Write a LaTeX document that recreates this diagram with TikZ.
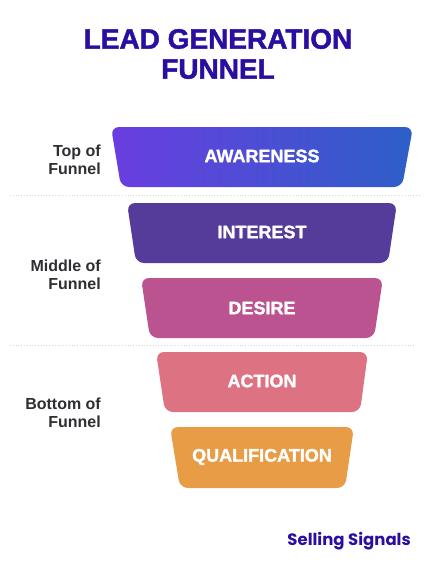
\documentclass[tikz,border=0pt]{standalone}
\usepackage{fontspec}
\setmainfont{Liberation Sans}
\newfontfamily\heavyfont[FakeBold=1.6]{Liberation Sans Bold}
\newfontfamily\popfont{Poppins}
\definecolor{titleblue}{HTML}{2B0EA0}
\definecolor{labelgray}{HTML}{2E2E33}
\definecolor{awL}{HTML}{6A3DE0}
\definecolor{awR}{HTML}{2D5FC8}
\definecolor{intc}{HTML}{563C9A}
\definecolor{desc}{HTML}{BB5390}
\definecolor{actc}{HTML}{DC7282}
\definecolor{qualc}{HTML}{E89C45}
\definecolor{dotgray}{HTML}{D8D8D8}
\begin{document}
\begin{tikzpicture}[x=1pt,y=-1pt,
  stage/.style={rounded corners=8pt},
  stagetext/.style={text=white,font=\heavyfont\fontsize{18}{18}\selectfont,inner sep=0pt},
  sidelabel/.style={text=labelgray,font=\bfseries\fontsize{16}{17.5}\selectfont,align=right,anchor=east,inner sep=0pt},
  sep/.style={draw=dotgray,dotted,line width=0.8pt}]
\useasboundingbox (0,0) rectangle (431,579);
% title
\node[text=titleblue,font=\heavyfont\fontsize{28}{30}\selectfont,align=center,inner sep=0pt] (title) at (218,54) {LEAD GENERATION\\FUNNEL};
% separators
\coordinate (s1a) at (10,195); \coordinate (s1b) at (420,195);
\coordinate (s2a) at (10,345); \coordinate (s2b) at (416,345);
\draw[sep] (s1a) -- (s1b);
\draw[sep] (s2a) -- (s2b);
% stages
\shade[stage,left color=awL,right color=awR] (111,127) -- (413,127) -- (402,187) -- (121,187) -- cycle;
\node[stagetext] (aw) at (262,156) {AWARENESS};
\fill[stage,intc] (127,203) -- (397,203) -- (388,263) -- (136,263) -- cycle;
\node[stagetext] (in) at (262,232) {INTEREST};
\fill[stage,desc] (141,278) -- (383,278) -- (374,338) -- (150,338) -- cycle;
\node[stagetext] (de) at (262,308) {DESIRE};
\fill[stage,actc] (156,352) -- (368,352) -- (360,412) -- (165,412) -- cycle;
\node[stagetext] (ac) at (262,381) {ACTION};
\fill[stage,qualc] (170,427) -- (354,427) -- (345,488) -- (180,488) -- cycle;
\node[stagetext] (qu) at (262,457) {QUALIFICATION};
% side labels
\node[sidelabel] (top) at (101,160) {Top of\\Funnel};
\node[sidelabel] (mid) at (101,275) {Middle of\\Funnel};
\node[sidelabel] (bot) at (101,413) {Bottom of\\Funnel};
% brand
\node[text=titleblue,font=\popfont\bfseries\fontsize{16.5}{18}\selectfont,anchor=east,inner sep=0pt] (brand) at (411,541) {Selling Signals};
\end{tikzpicture}
\end{document}
